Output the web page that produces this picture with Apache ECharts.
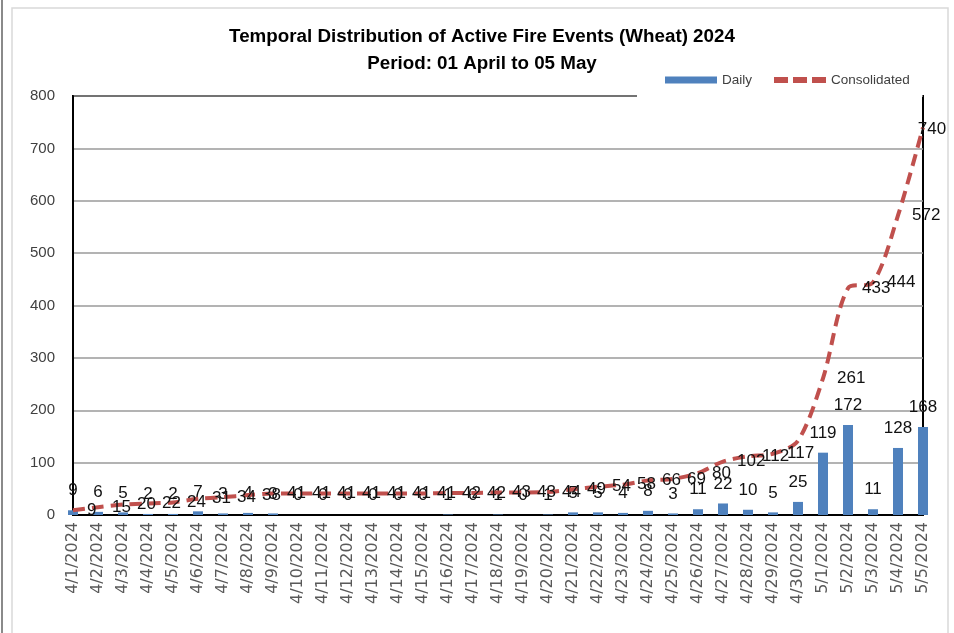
<!DOCTYPE html>
<html>
<head>
<meta charset="utf-8">
<script src="https://cdn.jsdelivr.net/npm/echarts@6/dist/echarts.min.js"></script>
<style>
  html, body { margin: 0; padding: 0; background: #fff; }
  #chart { width: 954px; height: 633px; }
</style>
</head>
<body>
<div id="chart"></div>
<script>
// dates 01 April - 05 May 2024
var days = [
  '4/1/2024', '4/2/2024', '4/3/2024', '4/4/2024', '4/5/2024', '4/6/2024', '4/7/2024',
  '4/8/2024', '4/9/2024', '4/10/2024', '4/11/2024', '4/12/2024', '4/13/2024', '4/14/2024',
  '4/15/2024', '4/16/2024', '4/17/2024', '4/18/2024', '4/19/2024', '4/20/2024', '4/21/2024',
  '4/22/2024', '4/23/2024', '4/24/2024', '4/25/2024', '4/26/2024', '4/27/2024', '4/28/2024',
  '4/29/2024', '4/30/2024', '5/1/2024', '5/2/2024', '5/3/2024', '5/4/2024', '5/5/2024'
];
var daily = [9, 6, 5, 2, 2, 7, 3, 4, 3, 0, 0, 0, 0, 0, 0, 1, 0, 1, 0, 1, 5, 5, 4, 8, 3, 11, 22, 10, 5, 25, 119, 172, 11, 128, 168];
var consolidated = [9, 15, 20, 22, 24, 31, 34, 38, 41, 41, 41, 41, 41, 41, 41, 42, 42, 43, 43, 44, 49, 54, 58, 66, 69, 80, 102, 112, 117, 142, 261, 433, 444, 572, 740];
var yTicks = [0, 100, 200, 300, 400, 500, 600, 700, 800];

var chart = echarts.init(document.getElementById('chart'));

var lineData = consolidated.map(function (v, i) {
  if (i === 29) return { value: v, label: { show: false } }; // hidden under 119 in the original
  if (i === consolidated.length - 1) return { value: v, label: { position: 'inside', offset: [9, 2] } };
  return v;
});

var option = {
  animation: false,
  textStyle: { fontFamily: 'Liberation Sans' },
  title: {
    text: 'Temporal Distribution of Active Fire Events (Wheat) 2024\nPeriod: 01 April to 05 May',
    left: 477,
    textAlign: 'center',
    top: 18,
    textStyle: { fontSize: 18.8, fontWeight: 'bold', color: '#000', lineHeight: 27 }
  },
  legend: {
    data: [
      { name: 'Daily', icon: 'rect' },
      { name: 'Consolidated', icon: 'path://M0,0h14v6h-14z M19,0h14v6h-14z M38,0h14v6h-14z', itemStyle: { color: '#C0504D' } }
    ],
    left: 660,
    top: 68,
    itemWidth: 52,
    itemHeight: 7,
    itemGap: 22,
    textStyle: { fontSize: 13.5, color: '#404040' }
  },
  graphic: [
    { type: 'rect', z: 100, shape: { x: 637, y: 91, width: 285, height: 7 }, style: { fill: '#fff' } },
    { type: 'rect', z: 100, shape: { x: 12, y: 8, width: 936, height: 640 }, style: { fill: 'none', stroke: '#d9d9d9', lineWidth: 1.5 } },
    { type: 'line', z: 100, shape: { x1: 2, y1: 0, x2: 2, y2: 633 }, style: { stroke: '#8a8a8a', lineWidth: 2 } }
  ],
  grid: {
    left: 73, right: 31, top: 96, bottom: 118,
    show: true, borderColor: '#000', borderWidth: 2, backgroundColor: 'transparent'
  },
  xAxis: {
    type: 'category',
    data: days,
    boundaryGap: false,
    axisLine: { lineStyle: { color: '#000', width: 2 } },
    axisTick: { show: false },
    axisLabel: { rotate: 90, interval: 0, fontSize: 16, fontFamily: 'DejaVu Sans', color: '#595959', margin: 7 }
  },
  yAxis: {
    type: 'value',
    min: yTicks[0],
    max: yTicks[yTicks.length - 1],
    interval: 100,
    axisLine: { show: true, lineStyle: { color: '#000', width: 2 } },
    axisTick: { show: false },
    axisLabel: { fontSize: 15, color: '#404040', margin: 18 },
    splitLine: { lineStyle: { color: '#9a9a9a', width: 1.5 } }
  },
  series: [
    {
      name: 'Daily',
      type: 'bar',
      data: daily,
      barWidth: 10,
      itemStyle: { color: '#4F81BD' },
      label: { show: true, position: 'top', distance: 11, fontSize: 17, color: '#111' }
    },
    {
      name: 'Consolidated',
      type: 'line',
      data: lineData,
      smooth: 0.3,
      symbol: 'circle',
      symbolSize: 0.1,
      lineStyle: { color: '#C0504D', width: 4, type: [12, 7] },
      itemStyle: { color: '#C0504D' },
      label: { show: true, position: 'right', distance: 14, fontSize: 17, color: '#111' },
      z: 3
    }
  ]
};

chart.setOption(option);
</script>
</body>
</html>
